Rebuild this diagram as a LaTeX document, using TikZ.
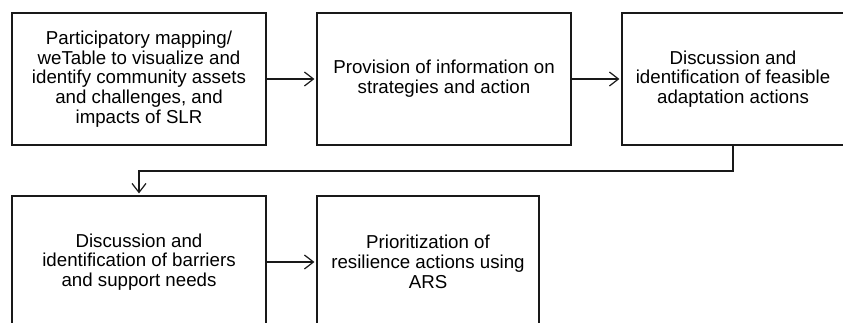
\documentclass[tikz,border=0pt]{standalone}
\usepackage{fontspec}
\setmainfont{Liberation Sans}
\usetikzlibrary{arrows.meta}

\tikzset{
	stage/.style={draw=black!90,line width=1.2pt,minimum height=132pt,
		align=center,inner sep=0pt,font=\fontsize{18.7}{19.8}\selectfont},
	flow/.style={draw=black!90,line width=1.2pt,-{Straight Barb[length=9pt,width=14pt,line width=1.2pt]},shorten >=2pt}
}

\begin{document}
\begin{tikzpicture}[x=1pt,y=-1pt]
\useasboundingbox (0,0) rectangle (843,322);
% top row
\node[stage,minimum width=254pt] (map) at (139,79)
	{Participatory mapping/\\weTable to visualize and\\identify community assets\\and challenges, and\\impacts of SLR};
\node[stage,minimum width=254pt] (info) at (444,79)
	{Provision of information on\\strategies and action};
\node[stage,minimum width=222pt] (feas) at (733,79)
	{Discussion and\\identification of feasible\\adaptation actions};
% bottom row
\node[stage,minimum width=254pt] (barr) at (139,262)
	{Discussion and\\identification of barriers\\and support needs};
\node[stage,minimum width=222pt] (prio) at (428,262)
	{Prioritization of\\resilience actions using\\ARS};
% connectors
\draw[flow] (map) -- (info);
\draw[flow] (info) -- (feas);
\coordinate (turn) at (0,171);
\draw[flow] (feas.south) |- (turn -| barr.north) -- (barr.north);
\draw[flow] (barr) -- (prio);
\end{tikzpicture}
\end{document}
